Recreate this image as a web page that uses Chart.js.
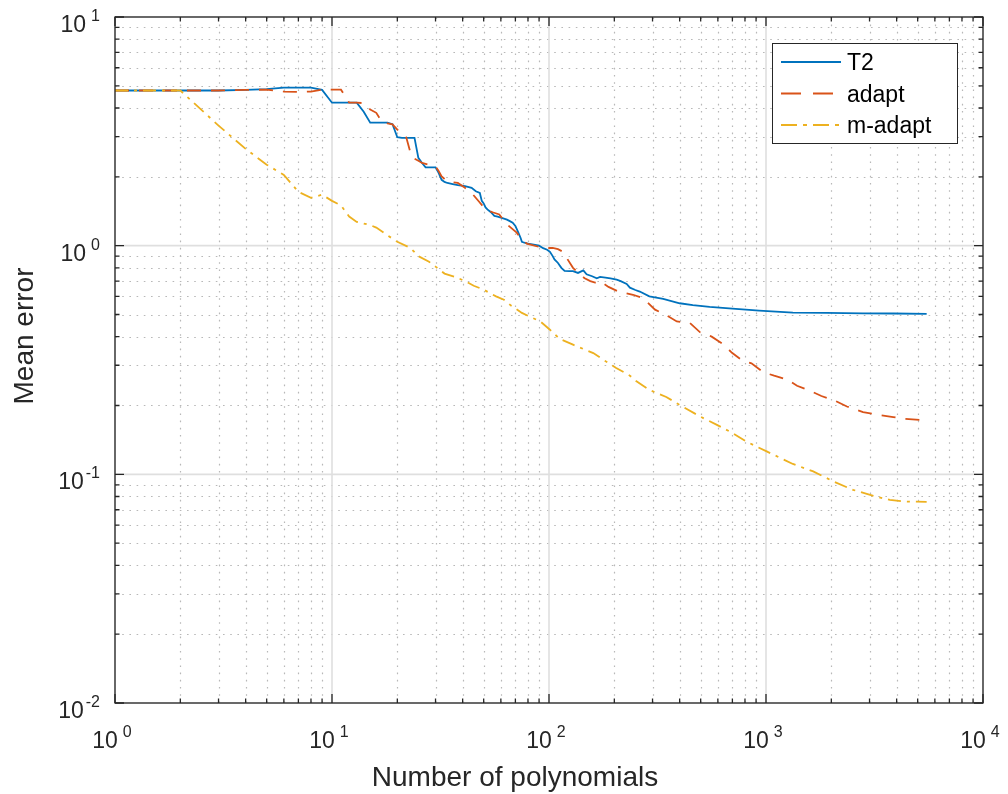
<!DOCTYPE html>
<html>
<head>
<meta charset="utf-8">
<script src="https://cdn.jsdelivr.net/npm/chart.js@4.4.1/dist/chart.umd.min.js"></script>
<style>
  html, body { margin: 0; padding: 0; background: #ffffff; }
  #wrap { width: 1008px; height: 794px; }
</style>
</head>
<body>
<div id="wrap"><canvas id="c" width="1008" height="794"></canvas></div>
<script>
// ---- data -------------------------------------------------------------
const seriesNames = ['T2', 'adapt', 'm-adapt'];

const t2N = [1,2,3,4,5,6,7,8,9,10,11,12,13,14,15,16,17,18,19,20,21,22,23,24,25,26,27,28,29,30,31,32,33,34,
  36,38,41,44,46,48,49,50,51,52,54,56,58,61,64,66,68,70,72,74,75,77,80,85,90,94,98,101,104,106,
  110,114,118,124,129,136,140,144,149,158,166,172,182,192,205,214,228,236,250,262,
  290,336,400,460,550,700,930,1330,1900,2800,3870,5500];
const t2Err = [4.77,4.77,4.77,4.80,4.84,4.91,4.91,4.91,4.80,4.22,
  4.22,4.22,4.22,3.85,3.45,3.45,3.45,3.45,3.40,2.98,
  2.96,2.96,2.96,2.96,2.42,2.30,2.20,2.20,2.20,2.20,
  2.08,1.94,1.90,1.88,
  1.86,1.84,1.82,1.79,1.73,1.70,1.57,1.53,1.47,1.44,
  1.40,1.35,1.34,1.32,1.30,1.28,1.26,1.22,1.15,1.08,
  1.04,1.03,1.02,1.01,1.00,0.975,0.96,0.94,0.90,0.87,
  0.84,0.80,0.775,0.774,0.774,0.76,0.77,0.78,0.75,0.735,
  0.72,0.73,0.725,0.72,0.71,0.70,0.68,0.655,0.64,0.63,
  0.60,0.585,0.56,0.55,0.54,0.53,0.52,0.51,0.508,0.506,
  0.505,0.503];

const adaptN = [1,2,3,4,5,6,7,8,9,10,11,12,13,14,15,16,17,18,19,20,21,22,23,24,25,26,28,30,31,32,34,38,
  41,44,47,51,55,59,64,71,74,79,94,104,110,116,121,129,139,146,155,163,171,188,209,244,271,
  308,343,388,446,497,562,636,697,775,857,970,1090,1250,1390,1610,1800,2080,2360,2800,
  3180,3860,4370,5500];
const adaptErr = [4.77,4.77,4.77,4.80,4.81,4.72,4.70,4.72,4.81,4.81,
  4.81,4.22,4.22,4.20,3.94,3.81,3.47,3.43,3.39,3.22,
  3.08,2.97,2.55,2.40,2.35,2.30,2.26,2.22,2.12,2.01,1.91,1.88,
  1.79,1.70,1.58,1.44,1.40,1.37,1.24,1.14,1.08,1.02,0.977,0.977,0.965,0.94,0.88,0.80,0.747,0.72,0.70,0.69,0.70,0.66,0.63,0.61,0.59,
  0.525,0.50,0.466,0.459,0.418,0.40,0.37,0.34,0.315,0.306,0.28,0.27,0.26,0.244,0.231,0.22,0.21,0.198,0.187,
  0.183,0.178,0.175,0.172];

const madaptN = [1,2,3,4,5,6,7,8,9,10,11,12,13,14,15,16,18,20,23,25,28,30,33,37,41,45,50,57,62,67,75,82,91,
  101,112,129,160,178,204,236,253,290,347,401,497,591,706,812,1007,1330,1650,2050,2520,3130,3720,4430,5500];
const madaptErr = [4.77,4.77,3.35,2.65,2.26,2.04,1.72,1.62,1.67,1.57,1.50,1.34,1.27,1.25,1.23,1.20,1.11,1.04,0.977,0.90,0.85,0.81,0.755,0.73,0.70,0.668,0.642,0.60,0.58,0.546,0.508,0.488,0.467,
  0.429,0.391,0.369,0.339,0.317,0.292,0.27,0.255,0.234,0.218,0.201,0.179,0.165,0.151,0.139,0.126,0.111,0.103,0.093,0.0855,0.0805,0.0773,0.076,0.0758];

const xTickExponents = [0, 1, 2, 3, 4];
const yTickExponents = [-2, -1, 0, 1];
const xAxisTitle = 'Number of polynomials';
const yAxisTitle = 'Mean error';

// ---- styling ----------------------------------------------------------
const FONT = '"Liberation Sans", Arial, Helvetica, sans-serif';
const INK = '#262626';
const seriesColors = ['#0072BD', '#D95319', '#EDB120'];
const plotDashes = [[], [14, 10], [13, 6, 3, 6]];
const legendDashes = [[], [20, 12], [16, 6, 4, 6]];

const toPoints = (ns, vs) => ns.map((n, i) => ({ x: n, y: vs[i] }));

function decadeValues(exps) {
  const major = exps.map(e => Math.pow(10, e));
  const minor = [];
  for (let i = 0; i < exps.length - 1; i++) {
    for (let m = 2; m <= 9; m++) minor.push(m * Math.pow(10, exps[i]));
  }
  return { major, minor };
}

// "10" with a raised exponent
function drawPower(ctx, exp, x, baseline, align) {
  const s = exp < 0 ? '-' + Math.abs(exp) : String(exp);
  const baseFont = '23px ' + FONT, supFont = '16px ' + FONT;
  ctx.font = baseFont;
  const wb = ctx.measureText('10').width;
  ctx.font = supFont;
  const ws = ctx.measureText(s).width;
  const gap = exp < 0 ? 2 : 5;
  const total = wb + gap + ws;
  const x0 = align === 'center' ? x - total / 2 : x - total;
  ctx.textAlign = 'left';
  ctx.textBaseline = 'alphabetic';
  ctx.font = baseFont;
  ctx.fillText('10', x0, baseline);
  ctx.font = supFont;
  ctx.fillText(s, x0 + wb + gap, baseline - 11);
}

const frame = {
  id: 'frame',
  beforeDatasetsDraw(chart) {
    const { ctx, chartArea: a, scales: { x, y } } = chart;
    const xs = decadeValues(xTickExponents), ys = decadeValues(yTickExponents);
    ctx.save();
    // minor grid, dotted
    ctx.strokeStyle = '#b8b8b8';
    ctx.lineWidth = 1.2;
    ctx.setLineDash([1.6, 5.6]);
    ctx.beginPath();
    xs.minor.forEach(v => {
      const p = Math.round(x.getPixelForValue(v)) + 0.5;
      ctx.moveTo(p, a.bottom); ctx.lineTo(p, a.top);
    });
    ys.minor.forEach(v => {
      const p = Math.round(y.getPixelForValue(v)) + 0.5;
      ctx.moveTo(a.left, p); ctx.lineTo(a.right, p);
    });
    ctx.stroke();
    // major grid, solid
    ctx.setLineDash([]);
    ctx.strokeStyle = '#dfdfdf';
    ctx.lineWidth = 1.6;
    ctx.beginPath();
    xs.major.forEach(v => {
      const p = x.getPixelForValue(v);
      ctx.moveTo(p, a.bottom); ctx.lineTo(p, a.top);
    });
    ys.major.forEach(v => {
      const p = y.getPixelForValue(v);
      ctx.moveTo(a.left, p); ctx.lineTo(a.right, p);
    });
    ctx.stroke();
    ctx.restore();
  },
  afterDatasetsDraw(chart) {
    const { ctx, chartArea: a, scales: { x, y } } = chart;
    const xs = decadeValues(xTickExponents), ys = decadeValues(yTickExponents);
    ctx.save();
    // box
    ctx.strokeStyle = INK;
    ctx.lineWidth = 1.3;
    ctx.strokeRect(a.left, a.top, a.right - a.left, a.bottom - a.top);
    // inward tick marks on all four sides
    ctx.beginPath();
    const xt = (v, len) => {
      const p = x.getPixelForValue(v);
      ctx.moveTo(p, a.bottom); ctx.lineTo(p, a.bottom - len);
      ctx.moveTo(p, a.top); ctx.lineTo(p, a.top + len);
    };
    const yt = (v, len) => {
      const p = y.getPixelForValue(v);
      ctx.moveTo(a.left, p); ctx.lineTo(a.left + len, p);
      ctx.moveTo(a.right, p); ctx.lineTo(a.right - len, p);
    };
    xs.major.forEach(v => xt(v, 9)); xs.minor.forEach(v => xt(v, 4.5));
    ys.major.forEach(v => yt(v, 9)); ys.minor.forEach(v => yt(v, 4.5));
    ctx.stroke();

    // tick labels
    ctx.fillStyle = INK;
    xTickExponents.forEach(e => drawPower(ctx, e, x.getPixelForValue(Math.pow(10, e)) - 3, a.bottom + 45, 'center'));
    yTickExponents.forEach(e => drawPower(ctx, e, 100, y.getPixelForValue(Math.pow(10, e)) + 15, 'right'));

    // axis titles
    ctx.font = '28px ' + FONT;
    ctx.textAlign = 'center';
    ctx.textBaseline = 'alphabetic';
    ctx.fillText(xAxisTitle, 515, 786);
    ctx.save();
    ctx.translate(33, 336);
    ctx.rotate(-Math.PI / 2);
    ctx.fillText(yAxisTitle, 0, 0);
    ctx.restore();

    // legend
    const bx = 772.5, by = 43.5, bw = 185, bh = 100;
    ctx.fillStyle = '#ffffff';
    ctx.fillRect(bx, by, bw, bh);
    ctx.strokeStyle = INK;
    ctx.lineWidth = 1;
    ctx.strokeRect(bx, by, bw, bh);
    const rows = [62, 93.5, 125];
    chart.data.datasets.forEach((ds, i) => {
      ctx.strokeStyle = ds.borderColor;
      ctx.lineWidth = 1.8;
      ctx.setLineDash(legendDashes[i]);
      ctx.beginPath();
      ctx.moveTo(781, rows[i]); ctx.lineTo(841, rows[i]);
      ctx.stroke();
      ctx.setLineDash([]);
      ctx.fillStyle = '#000000';
      ctx.font = '23px ' + FONT;
      ctx.textAlign = 'left';
      ctx.textBaseline = 'alphabetic';
      ctx.fillText(ds.label, 847, rows[i] + 8);
    });
    ctx.restore();
  }
};

const series = [
  toPoints(t2N, t2Err),
  toPoints(adaptN, adaptErr),
  toPoints(madaptN, madaptErr)
];

new Chart(document.getElementById('c'), {
  type: 'scatter',
  data: {
    datasets: series.map((pts, i) => ({
      label: seriesNames[i],
      data: pts,
      showLine: true,
      borderColor: seriesColors[i],
      backgroundColor: seriesColors[i],
      borderWidth: 1.8,
      borderDash: plotDashes[i],
      pointRadius: 0,
      pointHoverRadius: 0,
      tension: 0,
      fill: false,
      order: 3 - i
    }))
  },
  options: {
    responsive: false,
    animation: false,
    events: [],
    layout: { padding: { left: 0, right: 25, top: 17, bottom: 0 } },
    plugins: { legend: { display: false }, tooltip: { enabled: false } },
    scales: {
      x: {
        type: 'logarithmic', min: 1, max: 10000,
        ticks: { display: false }, grid: { display: false }, border: { display: false },
        afterFit(s) { s.height = 91; }
      },
      y: {
        type: 'logarithmic', min: 0.01, max: 10,
        ticks: { display: false }, grid: { display: false }, border: { display: false },
        afterFit(s) { s.width = 115; }
      }
    }
  },
  plugins: [frame]
});
</script>
</body>
</html>
